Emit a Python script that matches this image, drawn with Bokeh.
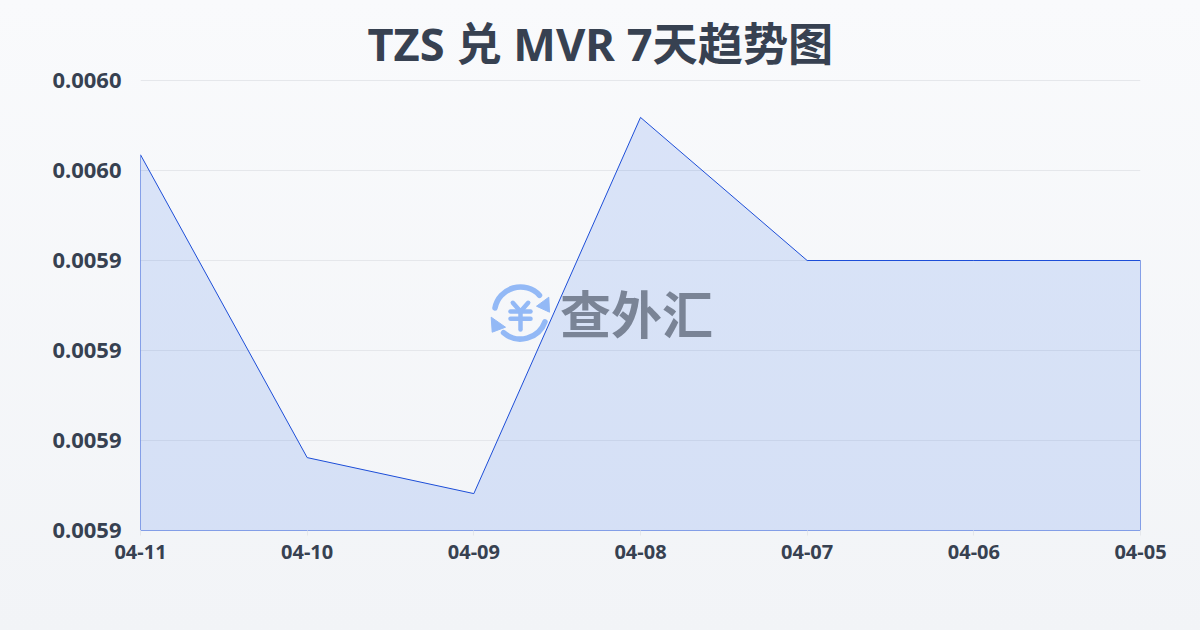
from bokeh.plotting import figure
from bokeh.embed import file_html
from bokeh.resources import INLINE
from bokeh.models import Range1d, FixedTicker, PrintfTickFormatter, Label

TITLE = "TZS 兑 MVR 7天趋势图"
LOGO = "查外汇"
CN = "Noto Sans CJK SC"
LATIN = "'Noto Sans', 'Noto Sans CJK SC'"
dates = ["04-11", "04-10", "04-09", "04-08", "04-07", "04-06", "04-05"]
rates = [0.0059635, 0.0058962, 0.0058882, 0.0059718, 0.00594, 0.00594, 0.00594]
y_ticks = [0.00588, 0.00590, 0.00592, 0.00594, 0.00596, 0.00598]
INK = "#374151"
LINE = "#1d4ed8"

xs = list(range(len(dates)))
# The frame starts one pixel above the top tick so that its grid line is drawn in full.
one_px = (y_ticks[-1] - y_ticks[0]) / 450
p = figure(width=1200, height=630, output_backend="svg", toolbar_location=None,
           x_range=Range1d(0, len(dates) - 1), y_range=Range1d(y_ticks[0], y_ticks[-1] + one_px),
           min_border_left=140, min_border_right=60, min_border_top=79, min_border_bottom=100,
           background_fill_color=None, border_fill_color=None, outline_line_color=None)
p.styles = {"background": "linear-gradient(180deg,#f9fafc,#f2f4f7)"}

p.title.text = TITLE
p.title.text_font = LATIN
p.title.text_font_size = "45.2px"
p.title.text_font_style = "bold"
p.title.text_color = INK
p.title.align = "left"
p.title.offset = 227
p.title.standoff = 12

# Reference-pixel ranges for the watermark.
p.extra_x_ranges["px"] = Range1d(140, 1140)
p.extra_y_ranges["py"] = Range1d(530, 79)

p.patch(xs + [xs[-1], xs[0]], rates + [y_ticks[0], y_ticks[0]],
        fill_color="#2563eb", fill_alpha=0.14, line_color=LINE, line_width=1)

p.xaxis.ticker = FixedTicker(ticks=xs)
p.xaxis.major_label_overrides = dict(zip(xs, dates))
p.yaxis.ticker = FixedTicker(ticks=y_ticks)
p.yaxis.formatter = PrintfTickFormatter(format="%.4f")
p.xaxis.axis_line_color = None
p.yaxis.axis_line_color = None
p.yaxis.major_tick_line_color = None
p.xaxis.major_tick_line_color = "#e5e7eb"
p.xaxis.major_tick_in = 0
p.xaxis.major_tick_out = 5
p.axis.minor_tick_line_color = None
p.xaxis.major_label_text_font = LATIN
p.yaxis.major_label_text_font = LATIN
p.xaxis.major_label_text_font_style = "bold"
p.yaxis.major_label_text_font_style = "bold"
p.xaxis.major_label_text_font_size = "20px"
p.yaxis.major_label_text_font_size = "22px"
p.xaxis.major_label_text_color = INK
p.yaxis.major_label_text_color = INK
p.xaxis.major_label_standoff = 9
p.yaxis.major_label_standoff = 13
p.xgrid.grid_line_color = None
p.ygrid.grid_line_color = "#e5e7eb"
p.ygrid.grid_line_width = 1

BLUE = "#93b9f6"
kw = dict(x_range_name="px", y_range_name="py")
p.arc(x=[520], y=[312.5], radius=26, radius_units="screen", start_angle=[0.75], end_angle=[2.95],
      direction="anticlock", line_color=BLUE, line_width=5.5, line_cap="round", **kw)
p.arc(x=[520], y=[312.5], radius=26, radius_units="screen", start_angle=[4.0], end_angle=[5.94],
      direction="anticlock", line_color=BLUE, line_width=5.5, line_cap="round", **kw)
p.patch([548.3, 549, 536], [296.7, 311.7, 305.7], fill_color=BLUE, line_color=BLUE, line_width=1, **kw)
p.patch([490.7, 505, 491.7], [316.7, 326.7, 331.7], fill_color=BLUE, line_color=BLUE, line_width=1, **kw)
p.multi_line(xs=[[512.3, 520, 527.7], [510, 530], [510, 530], [520, 520]],
             ys=[[302.3, 311, 302.3], [311, 311], [318.3, 318.3], [311, 329]],
             line_color=BLUE, line_width=4.5, line_cap="round", line_join="round", **kw)

p.add_layout(Label(x=636, y=311, text=LOGO, text_font=CN, text_font_size="51px", text_color="#7a8496",
                   text_font_style="bold", text_align="center", text_baseline="middle", **kw))

open("out.html", "w").write(file_html(p, INLINE))
